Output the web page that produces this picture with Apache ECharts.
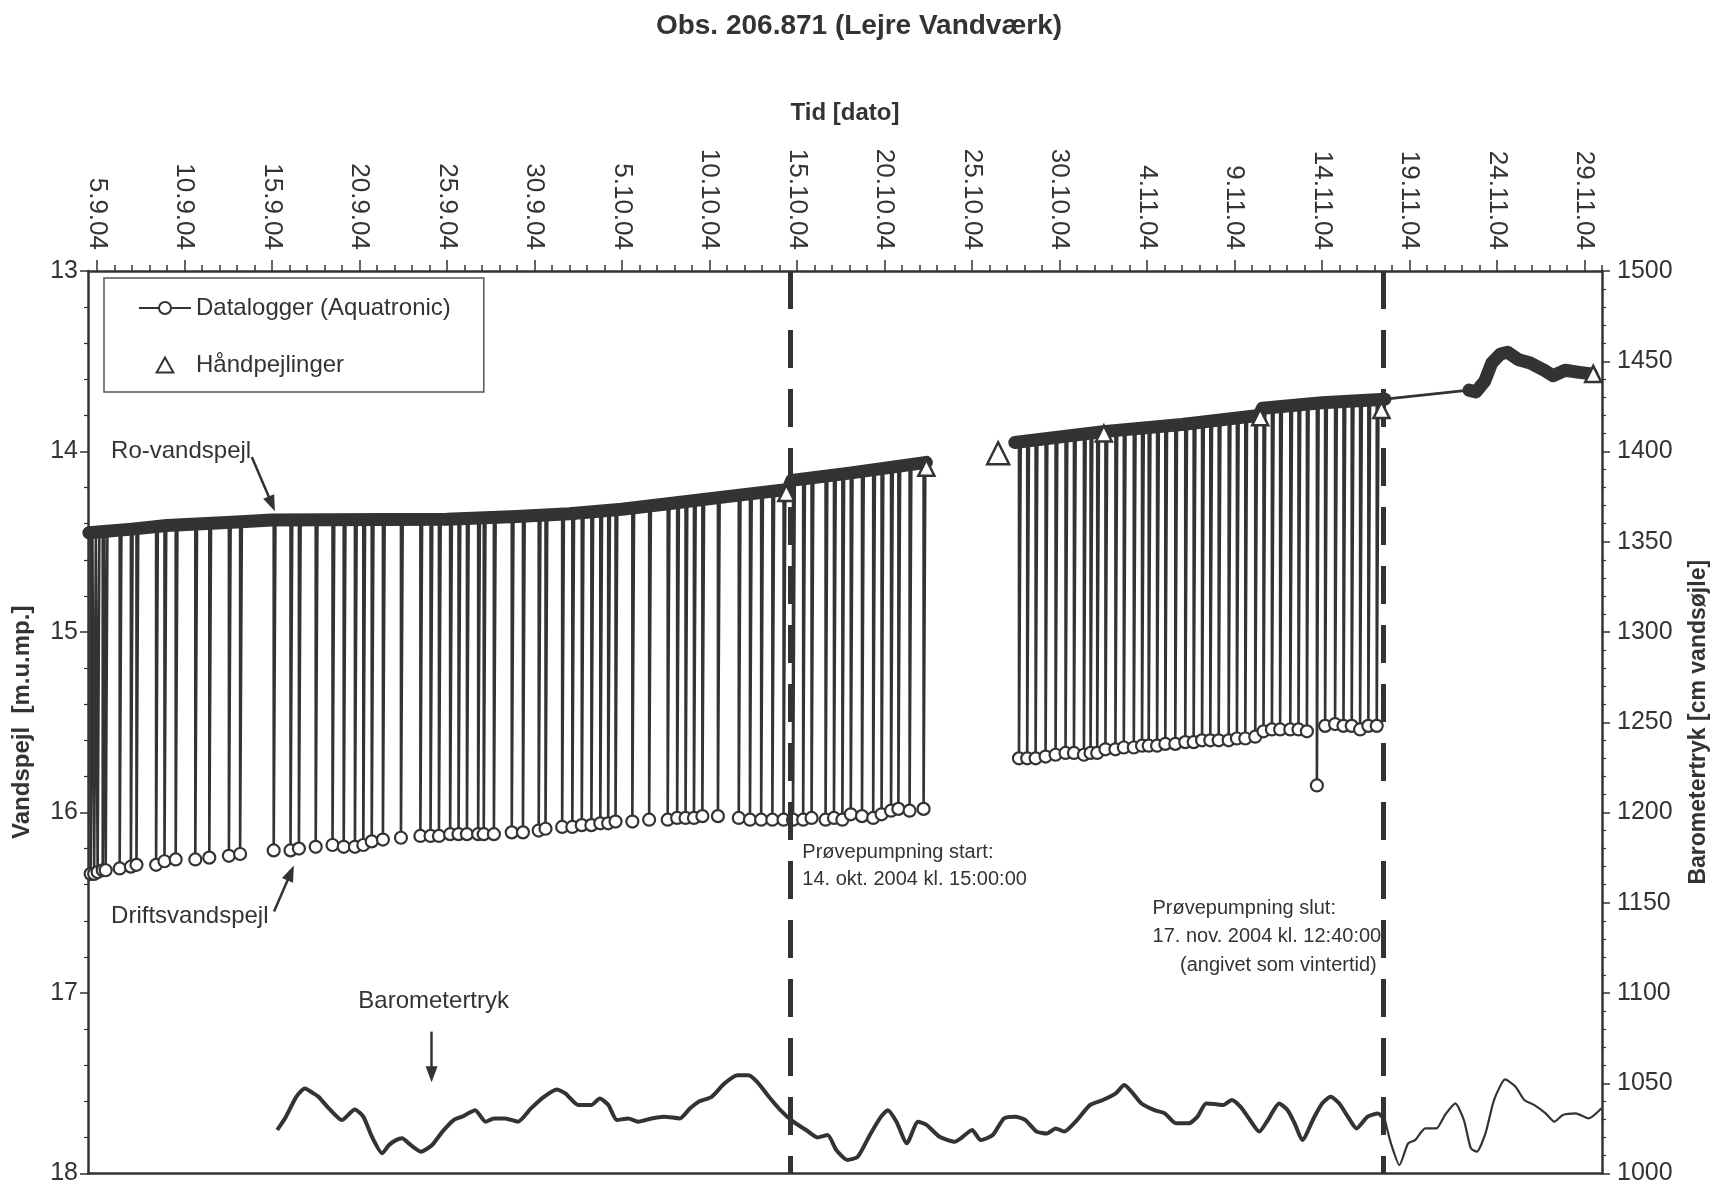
<!DOCTYPE html>
<html><head><meta charset="utf-8">
<script src="https://cdn.jsdelivr.net/npm/echarts@6/dist/echarts.min.js"></script>
<style>html,body{margin:0;padding:0;background:#fff}#c{width:1718px;height:1191px}</style>
</head><body><div id="c"></div>
<script>
// ---- data (x = days after 5.9.04 00:00) ----
const dateLabels = ['5.9.04','10.9.04','15.9.04','20.9.04','25.9.04','30.9.04','5.10.04','10.10.04','15.10.04','20.10.04','25.10.04','30.10.04','4.11.04','9.11.04','14.11.04','19.11.04','24.11.04','29.11.04'];
const labelDays = [0,5,10,15,20,25,30,35,40,45,50,55,60,65,70,75,80,85];
const tickDays = [0,1,2,3,4,5,6,7,8,9,10,11,12,13,14,15,16,17,18,19,20,21,22,23,24,25,26,27,28,29,30,31,32,33,34,35,36,37,38,39,40,41,42,43,44,45,46,47,48,49,50,51,52,53,54,55,56,57,58,59,60,61,62,63,64,65,66,67,68,69,70,71,72,73,74,75,76,77,78,79,80,81,82,83,84,85,86];

// pumping cycles, period before the gap
const cycDay1 = [-0.35,-0.15,0.05,0.34,0.51,1.31,1.95,2.27,3.39,3.87,4.51,5.63,6.43,7.55,8.19,10.11,11.07,11.55,12.51,13.47,14.11,14.75,15.23,15.71,16.35,17.38,18.49,19.07,19.55,20.19,20.67,21.15,21.79,22.11,22.69,23.71,24.35,25.25,25.64,26.59,27.17,27.71,28.26,28.77,29.22,29.64,30.60,31.56,32.62,33.16,33.64,34.12,34.60,35.49,36.68,37.32,37.96,38.60,39.24,39.78,40.36,40.84,41.64,42.12,42.60,43.08,43.72,44.36,44.84,45.38,45.80,46.44,47.24];
const cycLow1 = [16.34,16.34,16.33,16.32,16.32,16.31,16.30,16.29,16.29,16.27,16.26,16.26,16.25,16.24,16.23,16.21,16.21,16.20,16.19,16.18,16.19,16.19,16.18,16.16,16.15,16.14,16.13,16.13,16.13,16.12,16.12,16.12,16.12,16.12,16.12,16.11,16.11,16.10,16.09,16.08,16.08,16.07,16.07,16.06,16.06,16.05,16.05,16.04,16.04,16.03,16.03,16.03,16.02,16.02,16.03,16.04,16.04,16.04,16.04,16.04,16.04,16.03,16.04,16.03,16.04,16.01,16.02,16.03,16.01,15.99,15.98,15.99,15.98];
const cycTop1 = [14.44,14.44,14.44,14.44,14.44,14.43,14.43,14.43,14.42,14.41,14.41,14.40,14.40,14.39,14.39,14.38,14.38,14.38,14.38,14.38,14.38,14.38,14.38,14.38,14.38,14.38,14.38,14.38,14.38,14.38,14.37,14.37,14.37,14.37,14.37,14.36,14.36,14.36,14.35,14.35,14.34,14.34,14.33,14.33,14.32,14.32,14.31,14.30,14.29,14.28,14.27,14.27,14.26,14.25,14.24,14.23,14.22,14.22,14.21,14.16,14.15,14.15,14.14,14.13,14.12,14.12,14.11,14.10,14.09,14.08,14.08,14.07,14.06];

// pumping cycles, second period
const cycDay2 = [52.69,53.16,53.64,54.21,54.78,55.35,55.83,56.40,56.78,57.16,57.63,58.20,58.68,59.25,59.72,60.10,60.58,61.05,61.62,62.19,62.67,63.15,63.62,64.10,64.67,65.14,65.62,66.19,66.66,67.14,67.61,68.19,68.66,69.14,69.71,70.18,70.75,71.23,71.70,72.18,72.65,73.13];
const cycLow2 = [15.70,15.70,15.70,15.69,15.68,15.67,15.67,15.68,15.67,15.67,15.65,15.65,15.64,15.64,15.63,15.63,15.63,15.62,15.62,15.61,15.61,15.60,15.60,15.60,15.60,15.59,15.59,15.58,15.55,15.54,15.54,15.54,15.54,15.55,15.85,15.52,15.51,15.52,15.52,15.54,15.52,15.52];
const cycTop2 = [13.95,13.94,13.94,13.93,13.92,13.92,13.91,13.91,13.90,13.90,13.89,13.89,13.88,13.88,13.87,13.87,13.86,13.86,13.85,13.85,13.84,13.84,13.83,13.83,13.82,13.82,13.81,13.80,13.76,13.75,13.75,13.74,13.74,13.73,13.73,13.73,13.72,13.72,13.72,13.71,13.71,13.71];

// logger after the test pumping
const tailDay = [73.6,78.4,78.8,79.3,79.7,80.2,80.6,81.2,81.9,82.7,83.2,83.9,84.6,85.4];
const tailLevel = [13.71,13.66,13.67,13.61,13.51,13.46,13.45,13.49,13.51,13.55,13.58,13.55,13.56,13.57];

// rest water level (dense logger points forming the thick band)
const bandDay1 = [-0.45,2,4,6,8,10,20,24,27,30,33,36,39.5,39.7,43,47.4];
const bandLevel1 = [14.45,14.43,14.41,14.40,14.39,14.38,14.375,14.36,14.345,14.32,14.285,14.25,14.21,14.16,14.12,14.06];
const bandDay2 = [52.45,57.5,62,66.4,66.6,70,73.6];
const bandLevel2 = [13.95,13.89,13.85,13.80,13.76,13.73,13.71];

// manual readings
const handDay = [39.4,47.4,51.5,57.54,66.47,73.4,85.5];
const handLevel = [14.23,14.09,14.01,13.90,13.81,13.77,13.57];
const handSize = [16,16,22,16,16,16,16];

// barometer (cm water column)
const baroDay1 = [10.31,10.81,11.40,11.89,12.38,12.67,13.26,14.00,14.74,15.23,15.72,16.31,16.70,17.10,17.44,17.93,18.52,19.16,19.75,20.39,20.88,21.62,22.21,22.70,23.33,24.07,24.81,25.55,26.28,26.77,27.51,28.25,28.74,29.23,29.72,30.36,30.95,31.69,32.42,33.31,33.90,34.39,35.13,35.86,36.60,37.24,37.73,38.32,39.06,39.79,40.53,41.17,41.76,42.25,42.89,43.48,44.22,44.81,45.20,45.69,46.28,46.92,47.41,48.15,49.03,49.37,50.01,50.50,51.19,51.83,52.47,53.06,53.70,54.29,54.78,55.27,56.01,56.74,57.48,58.22,58.71,59.20,59.69,60.43,61.02,61.66,62.39,62.89,63.38,63.87,64.36,64.85,65.34,65.83,66.42,66.91,67.55,68.04,68.44,68.88,69.52,70.01,70.50,70.99,71.48,71.97,72.61,73.20,73.60];
const baroVal1 = [1024.1,1031.5,1042.5,1047.1,1044.4,1042.5,1036.1,1029.6,1035.5,1031.5,1020.4,1011.2,1015.8,1018.5,1019.5,1015.8,1012.1,1015.8,1023.2,1029.6,1031.5,1035.1,1028.7,1030.5,1030.5,1028.7,1036.1,1042.5,1046.6,1044.4,1037.9,1037.9,1041.6,1037.9,1029.6,1030.5,1028.7,1030.5,1031.5,1030.5,1036.1,1039.8,1042.5,1049.9,1054.5,1054.5,1050.8,1043.5,1035.1,1028.7,1024.1,1020.0,1021.3,1013.0,1007.5,1009.3,1022.2,1031.5,1035.1,1028.7,1016.7,1028.7,1026.9,1020.4,1017.6,1019.5,1024.1,1018.5,1021.3,1030.5,1031.5,1029.6,1023.2,1022.2,1025.0,1023.2,1029.6,1037.9,1040.7,1044.4,1049.0,1044.4,1038.8,1035.1,1033.3,1027.8,1027.8,1031.5,1038.8,1038.5,1037.9,1040.7,1037.0,1030.5,1023.2,1029.6,1038.8,1035.1,1027.8,1018.5,1030.5,1038.8,1042.5,1038.8,1031.5,1025.0,1031.5,1033.3,1029.6];
const baroDay2 = [73.60,73.94,74.43,74.92,75.32,75.90,76.54,77.03,77.62,78.11,78.51,78.85,79.34,79.83,80.47,81.06,81.56,82.14,82.78,83.27,83.76,84.50,85.24,85.97];
const baroVal2 = [1029.6,1016.7,1004.7,1016.7,1018.5,1025.0,1025.0,1032.4,1038.8,1029.6,1013.9,1012.1,1022.2,1040.7,1052.1,1048.1,1040.7,1037.9,1033.3,1028.7,1032.4,1033.3,1030.5,1036.1];

const pumpStart = 39.625, pumpEnd = 73.528;

// ---- build ----
const FONT = "'Liberation Sans', Arial, sans-serif";
const INK = '#333';
function cycleData(days, lows, tops) {
  const out = [];
  days.forEach((d, i) => {
    out.push({value: [d, tops[i]], symbol: 'none'});
    out.push([d, lows[i]]);
    out.push({value: [d + 0.1, tops[i]], symbol: 'none'});
  });
  return out;
}
const loggerData = [].concat(
  cycleData(cycDay1, cycLow1, cycTop1),
  [[50, null]],
  cycleData(cycDay2, cycLow2, cycTop2),
  tailDay.map((d, i) => ({value: [d, tailLevel[i]], symbol: 'none'}))
);
const bandData = [].concat(
  bandDay1.map((d, i) => [d, bandLevel1[i]]), [[50, null]],
  bandDay2.map((d, i) => [d, bandLevel2[i]]), [[76, null]],
  tailDay.slice(1).map((d, i) => [d, tailLevel[i + 1]])
);
const handData = handDay.map((d, i) => ({value: [d, handLevel[i]], symbolSize: handSize[i]}));
const baro1 = baroDay1.map((d, i) => [d, baroVal1[i]]);
const baro2 = baroDay2.map((d, i) => [d, baroVal2[i]]);

const axLine = {color: INK, width: 2.5};
const arrowStyle = {color: INK, width: 2.5, type: 'solid'};

const chart = echarts.init(document.getElementById('c'), null, {renderer: 'canvas'});
const option = {
  animation: false,
  backgroundColor: '#fff',
  title: {
    text: 'Obs. 206.871 (Lejre Vandværk)', left: 'center', top: 12, padding: 0,
    textStyle: {fontSize: 28, fontWeight: 'bold', color: INK, fontFamily: FONT}
  },
  legend: {
    left: 104, top: 278, orient: 'vertical',
    padding: [18, 33, 15, 34], itemGap: 33, itemWidth: 52, itemHeight: 15,
    borderColor: '#555', borderWidth: 1.5, symbolKeepAspect: true,
    textStyle: {fontSize: 24, color: INK, fontFamily: FONT},
    data: [
      {name: 'Datalogger (Aquatronic)'},
      {name: 'Håndpejlinger', icon: 'path://M10,0 L20,18 L0,18 Z'}
    ]
  },
  grid: {left: 88, right: 114, top: 271, bottom: 17.5},
  xAxis: [
    {
      type: 'value', position: 'top', min: -0.5, max: 86,
      name: 'Tid [dato]', nameLocation: 'middle', nameGap: 146,
      nameTextStyle: {fontSize: 24, fontWeight: 'bold', color: INK, fontFamily: FONT},
      axisLine: {show: true, onZero: false, lineStyle: axLine},
      axisTick: {show: true, length: 6, customValues: tickDays, lineStyle: {color: INK, width: 1.5}},
      axisLabel: {
        rotate: 90, margin: 21, fontSize: 26, color: INK, fontFamily: FONT,
        customValues: labelDays,
        formatter: v => dateLabels[Math.round(v / 5)] || ''
      },
      splitLine: {show: false}
    },
    {
      type: 'value', position: 'top', min: -0.5, max: 86,
      axisLine: {show: false},
      axisTick: {show: true, length: 11, customValues: labelDays, lineStyle: {color: INK, width: 1.5}},
      axisLabel: {show: false}, splitLine: {show: false}
    },
    {
      type: 'value', position: 'bottom', min: -0.5, max: 86,
      axisLine: {show: true, onZero: false, lineStyle: axLine},
      axisTick: {show: false}, axisLabel: {show: false}, splitLine: {show: false}
    }
  ],
  yAxis: [
    {
      type: 'value', position: 'left', inverse: true, min: 13, max: 18, interval: 1,
      name: 'Vandspejl  [m.u.mp.]', nameLocation: 'middle', nameGap: 54, nameRotate: 90,
      nameTextStyle: {fontSize: 24, fontWeight: 'bold', color: INK, fontFamily: FONT},
      axisLine: {show: true, onZero: false, lineStyle: axLine},
      axisTick: {show: true, length: 8, lineStyle: {color: INK, width: 1.5}},
      minorTick: {show: true, splitNumber: 5, length: 4, lineStyle: {color: INK, width: 1.2}},
      axisLabel: {fontSize: 25, color: INK, fontFamily: FONT, margin: 10, formatter: v => String(v)},
      splitLine: {show: false}
    },
    {
      type: 'value', position: 'right', min: 1000, max: 1500, interval: 50,
      name: 'Barometertryk [cm vandsøjle]', nameLocation: 'middle', nameGap: 85, nameRotate: 90,
      nameTextStyle: {fontSize: 23, fontWeight: 'bold', color: INK, fontFamily: FONT},
      axisLine: {show: true, onZero: false, lineStyle: axLine},
      axisTick: {show: true, length: 8, lineStyle: {color: INK, width: 1.5}},
      minorTick: {show: true, splitNumber: 5, length: 4, lineStyle: {color: INK, width: 1.2}},
      axisLabel: {fontSize: 25, color: INK, fontFamily: FONT, margin: 15, formatter: v => String(v)},
      splitLine: {show: false}
    }
  ],
  series: [
    {
      name: 'band', type: 'line', xAxisIndex: 0, yAxisIndex: 0, data: bandData,
      symbol: 'none', silent: true, z: 2,
      lineStyle: {color: INK, width: 13, cap: 'round', join: 'round'},
      markLine: {
        silent: true, symbol: ['none', 'none'], label: {show: false},
        lineStyle: {color: INK, width: 5, type: [38, 21]},
        data: [{xAxis: pumpStart}, {xAxis: pumpEnd}]
      }
    },
    {
      name: 'Datalogger (Aquatronic)', type: 'line', xAxisIndex: 0, yAxisIndex: 0,
      data: loggerData, symbol: 'circle', symbolSize: 12, showAllSymbol: true, z: 3,
      lineStyle: {color: INK, width: 2.6},
      itemStyle: {color: '#fff', borderColor: INK, borderWidth: 2.2}
    },
    {
      name: 'Håndpejlinger', type: 'scatter', xAxisIndex: 0, yAxisIndex: 0,
      data: handData, symbol: 'triangle', symbolSize: 16, z: 5,
      itemStyle: {color: '#fff', borderColor: INK, borderWidth: 2.5, opacity: 1}
    },
    {
      name: 'baro1', type: 'line', xAxisIndex: 0, yAxisIndex: 1, data: baro1,
      symbol: 'none', smooth: 0.2, silent: true, z: 3,
      lineStyle: {color: INK, width: 4}
    },
    {
      name: 'baro2', type: 'line', xAxisIndex: 0, yAxisIndex: 1, data: baro2,
      symbol: 'none', smooth: 0.2, silent: true, z: 3,
      lineStyle: {color: INK, width: 2.2}
    },
    {
      name: 'arrows', type: 'line', xAxisIndex: 0, yAxisIndex: 0, data: [],
      silent: true,
      markLine: {
        silent: true, symbol: ['none', 'triangle'], symbolSize: [12, 16],
        label: {show: false}, lineStyle: arrowStyle,
        data: [
          [{coord: [8.86, 14.03]}, {coord: [10.0, 14.29]}],
          [{coord: [10.13, 16.549]}, {coord: [11.08, 16.335]}],
          [{coord: [19.13, 17.214]}, {coord: [19.13, 17.45]}]
        ]
      }
    }
  ]
};
chart.setOption(option);

// text annotations, anchored in data coordinates
const notes = [
  {text: 'Ro-vandspejl', d: 0.82, v: 14.0, align: 'left', size: 24},
  {text: 'Driftsvandspejl', d: 0.82, v: 16.574, align: 'left', size: 24},
  {text: 'Barometertryk', d: 19.25, v: 17.047, align: 'center', size: 24},
  {text: 'Prøvepumpning start:', d: 40.31, v: 16.222, align: 'left', size: 20},
  {text: '14. okt. 2004 kl. 15:00:00', d: 40.31, v: 16.373, align: 'left', size: 20},
  {text: 'Prøvepumpning slut:', d: 60.32, v: 16.531, align: 'left', size: 20},
  {text: '17. nov. 2004 kl. 12:40:00', d: 60.32, v: 16.689, align: 'left', size: 20},
  {text: '(angivet som vintertid)', d: 73.13, v: 16.847, align: 'right', size: 20}
];
const graphics = notes.map(n => {
  const p = chart.convertToPixel({xAxisIndex: 0, yAxisIndex: 0}, [n.d, n.v]);
  return {
    type: 'text', x: p[0], y: p[1], z: 10, silent: true,
    style: {text: n.text, fontSize: n.size, fontFamily: FONT, fill: INK, align: n.align, verticalAlign: 'middle'}
  };
});
chart.setOption({graphic: graphics});
</script>
</body></html>
